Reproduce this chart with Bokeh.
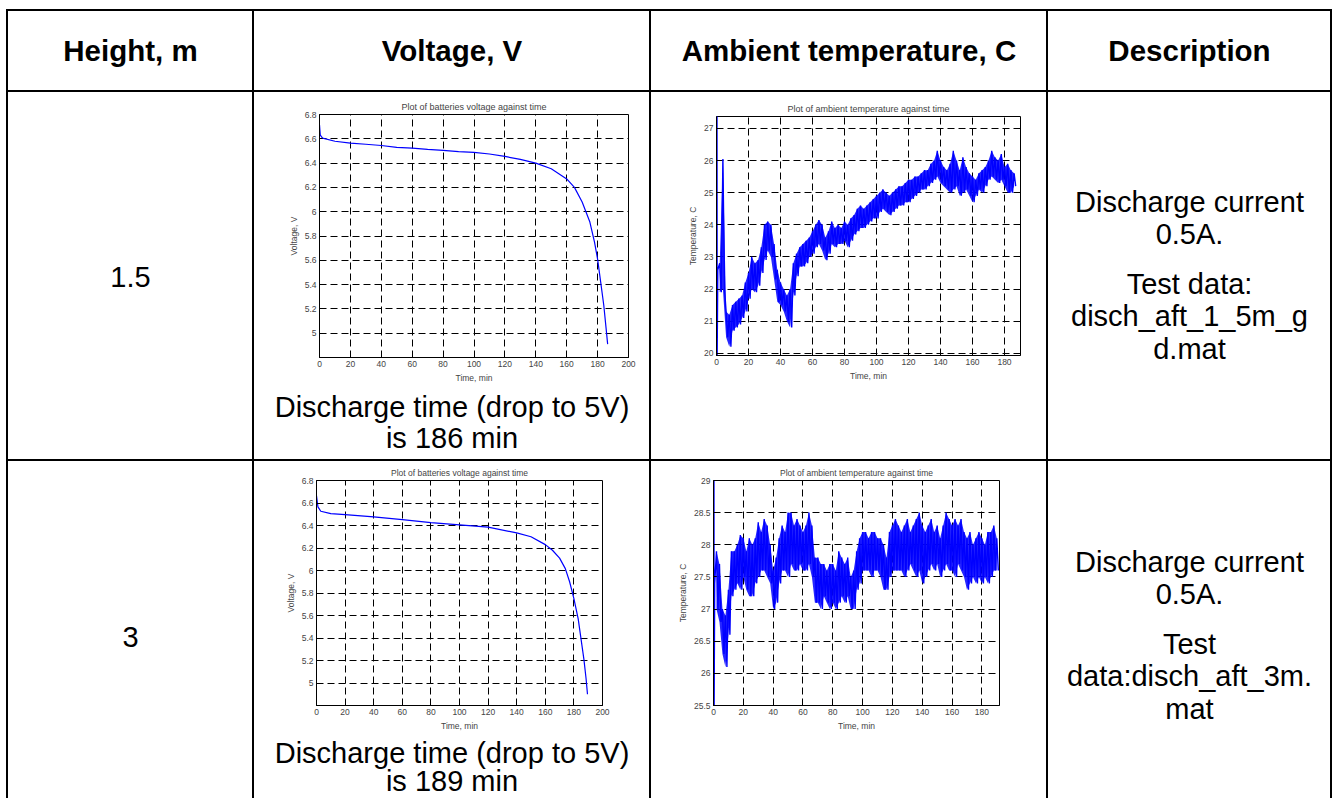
from bokeh.plotting import figure
from bokeh.layouts import row, column
from bokeh.models import Range1d, FixedTicker, Spacer
from bokeh.core.properties import value
from bokeh.embed import file_html
from bokeh.resources import INLINE

# ---------------- data ----------------
header_labels = ["Height, m", "Voltage, V", "Ambient temperature, C", "Description"]
heights = ["1.5", "3"]
discharge_text = [["Discharge time (drop to 5V)", "is 186 min"],
                  ["Discharge time (drop to 5V)", "is 189 min"]]
descriptions = [["Discharge current", "0.5A.", "Test data:", "disch_aft_1_5m_g", "d.mat"],
                ["Discharge current", "0.5A.", "Test", "data:disch_aft_3m.", "mat"]]

volt_title = "Plot of batteries voltage against time"
temp_title = "Plot of ambient temperature against time"

# voltage, 1.5 m
v1_time = [0, 0.5, 2, 10, 20, 30, 40, 50, 60, 70, 80, 90, 100, 110, 120, 130, 140, 150,
           160, 165, 170, 175, 178, 180, 182, 184, 185.5, 186.5]
v1_volt = [6.715, 6.63, 6.605, 6.58, 6.565, 6.555, 6.545, 6.53, 6.523, 6.513, 6.504, 6.495,
           6.488, 6.475, 6.455, 6.43, 6.40, 6.353, 6.27, 6.20, 6.08, 5.915, 5.75, 5.61, 5.42,
           5.23, 5.04, 4.91]
# voltage, 3 m
v2_time = [0, 1, 3, 10, 20, 40, 60, 80, 100, 120, 140, 150, 160, 165, 170, 174, 177, 180,
           183, 185, 187, 188.5, 189.5]
v2_volt = [6.663, 6.566, 6.527, 6.506, 6.497, 6.477, 6.453, 6.426, 6.405, 6.385, 6.334, 6.30,
           6.23, 6.18, 6.11, 6.017, 5.90, 5.75, 5.57, 5.39, 5.21, 5.04, 4.90]

volt_xticks = [0, 20, 40, 60, 80, 100, 120, 140, 160, 180, 200]
volt_yticks = [5.0, 5.2, 5.4, 5.6, 5.8, 6.0, 6.2, 6.4, 6.6, 6.8]
volt_ylabels = ["5", "5.2", "5.4", "5.6", "5.8", "6", "6.2", "6.4", "6.6", "6.8"]

# temperature, 1.5 m : start samples, then sampled peaks (even minutes) / troughs (odd minutes)
t1_head_time = [0.3, 0.4, 0.8]
t1_head_temp = [27.5, 19.9, 22.6]
t1_peak_time = list(range(2, 187, 2))
t1_peak = [22.8, 26.05, 21.3, 21.2, 21.5, 21.6, 21.7, 21.8, 22.2, 22.5, 23.0, 22.8, 22.9, 23.3,
           24.0, 24.1, 24.0, 23.4, 22.6, 22.2, 22.0, 21.8, 22.0, 22.8, 23.1, 23.3, 23.4, 23.5,
           23.6, 23.8, 24.0, 24.15, 24.0, 23.6, 23.8, 24.1, 23.9, 24.0, 23.9, 24.1, 24.0, 24.2,
           24.3, 24.5, 24.6, 24.5, 24.6, 24.7, 24.8, 24.9, 25.0, 25.1, 25.0, 24.9, 25.0, 25.1,
           25.2, 25.2, 25.3, 25.4, 25.4, 25.5, 25.5, 25.6, 25.7, 25.7, 25.9, 26.0, 26.3, 26.0,
           25.8, 25.7, 25.9, 26.3, 26.0, 25.7, 26.1, 25.8, 25.6, 25.5, 25.4, 25.6, 25.7, 25.8,
           26.0, 26.3, 26.1, 26.0, 26.2, 25.8, 25.9, 25.7, 25.6]
t1_trough = [21.9, 22.0, 20.5, 20.2, 20.7, 20.8, 20.9, 21.1, 21.3, 21.7, 22.0, 21.9, 22.1, 22.5,
             22.9, 23.2, 23.0, 22.3, 21.6, 21.5, 21.3, 21.0, 20.8, 21.8, 22.4, 22.7, 22.7, 22.8,
             23.0, 23.1, 23.3, 23.4, 23.2, 22.9, 23.1, 23.4, 23.3, 23.4, 23.4, 23.5, 23.3, 23.5,
             23.7, 23.8, 23.9, 23.9, 24.0, 24.1, 24.2, 24.2, 24.4, 24.5, 24.4, 24.3, 24.4, 24.5,
             24.6, 24.6, 24.7, 24.7, 24.8, 24.9, 25.0, 25.1, 25.1, 25.2, 25.3, 25.4, 25.5, 25.3,
             25.2, 25.1, 25.0, 25.1, 25.2, 24.9, 25.0, 25.1, 24.9, 24.7, 24.9, 25.1, 25.0, 25.2,
             25.4, 25.5, 25.4, 25.3, 25.4, 25.2, 25.0, 25.0, 25.2]

# temperature, 3 m
t2_head_time = [0.3, 0.4, 0.8]
t2_head_temp = [29.1, 25.4, 27.4]
t2_peak_time = list(range(2, 191, 2))
t2_peak = [27.9, 27.7, 27.0, 26.9, 27.3, 27.9, 27.9, 28.0, 28.15, 28.1, 27.9, 28.1, 28.0, 28.1,
           28.35, 28.2, 28.4, 28.3, 28.0, 27.6, 27.8, 28.1, 28.3, 28.2, 28.5, 28.5, 28.3, 28.4,
           28.3, 28.2, 28.3, 28.5, 28.3, 27.8, 27.8, 27.7, 27.7, 27.6, 27.7, 27.7, 27.6, 27.9,
           27.8, 27.7, 27.8, 27.5, 27.6, 27.9, 28.1, 28.2, 28.2, 28.1, 28.2, 28.2, 28.1, 28.1,
           28.0, 27.8, 28.2, 28.3, 28.4, 28.3, 28.2, 28.3, 28.4, 28.2, 28.3, 28.4, 28.5, 28.3,
           28.2, 28.3, 28.4, 28.2, 28.3, 28.1, 28.3, 28.5, 28.4, 28.3, 28.4, 28.3, 28.4, 28.2,
           28.1, 28.2, 28.0, 28.1, 28.2, 28.1, 28.0, 28.2, 28.2, 28.3, 28.1]
t2_trough = [27.0, 26.8, 26.3, 26.1, 26.6, 27.2, 27.3, 27.4, 27.3, 27.5, 27.3, 27.2, 27.2, 27.4,
             27.5, 27.6, 27.6, 27.5, 27.4, 27.0, 27.1, 27.4, 27.6, 27.6, 27.5, 27.7, 27.6, 27.6,
             27.7, 27.6, 27.6, 27.7, 27.5, 27.1, 27.1, 27.0, 27.2, 27.1, 27.0, 27.1, 27.0, 27.1,
             27.2, 27.1, 27.2, 27.0, 27.0, 27.3, 27.4, 27.6, 27.6, 27.6, 27.5, 27.6, 27.6, 27.5,
             27.3, 27.3, 27.5, 27.6, 27.6, 27.6, 27.6, 27.5, 27.6, 27.7, 27.6, 27.5, 27.6, 27.4,
             27.5, 27.6, 27.7, 27.6, 27.7, 27.5, 27.6, 27.7, 27.6, 27.6, 27.5, 27.7, 27.6, 27.5,
             27.3, 27.4, 27.5, 27.4, 27.5, 27.4, 27.5, 27.4, 27.5, 27.6, 27.6]

temp_xticks = [0, 20, 40, 60, 80, 100, 120, 140, 160, 180]
t1_yticks = [20, 21, 22, 23, 24, 25, 26, 27]
t1_ylabels = ["20", "21", "22", "23", "24", "25", "26", "27"]
t2_yticks = [25.5, 26.0, 26.5, 27.0, 27.5, 28.0, 28.5, 29.0]
t2_ylabels = ["25.5", "26", "26.5", "27", "27.5", "28", "28.5", "29"]

# ---------------- helpers ----------------
FONT = "Liberation Sans"
BLUE = "#0000ff"
TEXT_SHIFT = -11


def blank(w, h, color="white"):
    p = figure(width=w, height=h, x_range=Range1d(0, w), y_range=Range1d(h, 0),
               toolbar_location=None, output_backend="svg", min_border=0, title=None,
               x_axis_type=None, y_axis_type=None, frame_align=False)
    p.outline_line_color = None
    p.background_fill_color = color
    p.border_fill_color = color
    return p


def text_cell(w, h, lines, baselines, size="29px", bold=False):
    p = blank(w, h)
    p.text(x=[w / 2] * len(lines), y=[b + TEXT_SHIFT for b in baselines], text=lines,
           text_align="center", text_baseline="alphabetic",
           text_font=value(FONT), text_font_size=size,
           text_font_style="bold" if bold else "normal", text_color="black")
    return p


def chart(w, h, bl, br, bt, bb, xr, yr, xticks, yticks, ylabels, title, ylabel, tsize):
    p = figure(width=w, height=h, x_range=Range1d(*xr), y_range=Range1d(*yr),
               toolbar_location=None, output_backend="svg", frame_align=False,
               min_border_left=bl, min_border_right=br, min_border_top=bt, min_border_bottom=bb)
    p.background_fill_color = "white"
    p.border_fill_color = "white"
    p.outline_line_color = "black"
    p.outline_line_width = 1
    p.title.text = title
    p.title.align = "center"
    p.title.text_font = FONT
    p.title.text_font_size = tsize
    p.title.text_font_style = "normal"
    p.title.standoff = 6
    p.xaxis.ticker = FixedTicker(ticks=xticks)
    p.yaxis.ticker = FixedTicker(ticks=yticks)
    p.yaxis.major_label_overrides = {t: s for t, s in zip(yticks, ylabels)}
    p.xaxis.axis_label = "Time, min"
    p.yaxis.axis_label = ylabel
    for ax in (p.xaxis, p.yaxis):
        ax.axis_label_text_font = FONT
        ax.axis_label_text_font_size = "8.5px"
        ax.axis_label_text_font_style = "normal"
        ax.axis_label_standoff = 3
        ax.major_label_text_font = FONT
        ax.major_label_text_font_size = "8.5px"
        ax.major_label_standoff = 3
        ax.major_tick_in = 3
        ax.major_tick_out = 0
        ax.minor_tick_line_color = None
        ax.axis_line_color = "black"
        ax.major_tick_line_color = "black"
    p.grid.grid_line_color = "black"
    p.grid.grid_line_dash = "7 4"
    p.grid.grid_line_width = 1
    return p


def noisy(p, head_t, head_v, peak_t, peaks, troughs):
    xs, ys = list(head_t), list(head_v)
    for t, a, b in zip(peak_t, peaks, troughs):
        xs += [t, t + 1]
        ys += [a, b]
    p.varea(x=peak_t, y1=troughs, y2=peaks, fill_color=BLUE, fill_alpha=0.85)
    p.line(xs, ys, line_color=BLUE, line_width=1.4)


def vbar(h):
    return Spacer(width=2, height=h, styles={"background-color": "black"})


def hbar(w):
    return Spacer(width=w, height=2, styles={"background-color": "black"})


# ---------------- geometry ----------------
CW = [244, 395, 395, 282]
TOTAL_W = sum(CW) + 10
H_HEAD, H_R1, H_R2 = 79, 367, 337

# header row
head_cells = [text_cell(CW[i], H_HEAD, [header_labels[i]], [50], size="29.5px", bold=True)
              for i in range(4)]

# row 1
c1_r1 = text_cell(CW[0], H_R1, [heights[0]], [195])
pv1 = chart(CW[1], 300, 65, 21, 22, 35, (0, 200), (4.8, 6.8), volt_xticks, volt_yticks,
            volt_ylabels, volt_title, "Voltage, V", "9px")
pv1.line(v1_time, v1_volt, line_color=BLUE, line_width=1.2)
tv1 = text_cell(CW[1], H_R1 - 300, discharge_text[0], [25, 56])
c2_r1 = column(pv1, tv1, spacing=0)
pt1 = chart(CW[2], H_R1, 65, 26, 24, 104, (0, 190), (19.93, 27.37), temp_xticks, t1_yticks,
            t1_ylabels, temp_title, "Temperature, C", "9px")
noisy(pt1, t1_head_time, t1_head_temp, t1_peak_time, t1_peak, t1_trough)
c4_r1 = text_cell(CW[3], H_R1, descriptions[0], [120, 152, 202, 234, 267])

# row 2
c1_r2 = text_cell(CW[0], H_R2, [heights[1]], [186])
pv2 = chart(CW[1], 272, 62, 47, 19, 28, (0, 200), (4.8, 6.8), volt_xticks, volt_yticks,
            volt_ylabels, volt_title, "Voltage, V", "8.5px")
pv2.line(v2_time, v2_volt, line_color=BLUE, line_width=1.2)
tv2 = text_cell(CW[1], H_R2 - 272, discharge_text[1], [30, 58])
c2_r2 = column(pv2, tv2, spacing=0)
pt2 = chart(CW[2], H_R2, 62, 47, 19, 93, (0, 191.8), (25.5, 29.0), temp_xticks, t2_yticks,
            t2_ylabels, temp_title, "Temperature, C", "8.5px")
noisy(pt2, t2_head_time, t2_head_temp, t2_peak_time, t2_peak, t2_trough)
c4_r2 = text_cell(CW[3], H_R2, descriptions[1], [111, 143, 193, 225, 258])


def table_row(cells, h):
    kids = [vbar(h)]
    for c in cells:
        kids += [c, vbar(h)]
    return row(*kids, spacing=0)


table = column(
    hbar(TOTAL_W),
    table_row(head_cells, H_HEAD),
    hbar(TOTAL_W),
    table_row([c1_r1, c2_r1, pt1, c4_r1], H_R1),
    hbar(TOTAL_W),
    table_row([c1_r2, c2_r2, pt2, c4_r2], H_R2),
    spacing=0,
)

layout = column(Spacer(height=9), row(Spacer(width=6), table, spacing=0), spacing=0)

open("out.html", "w").write(file_html(layout, INLINE))
